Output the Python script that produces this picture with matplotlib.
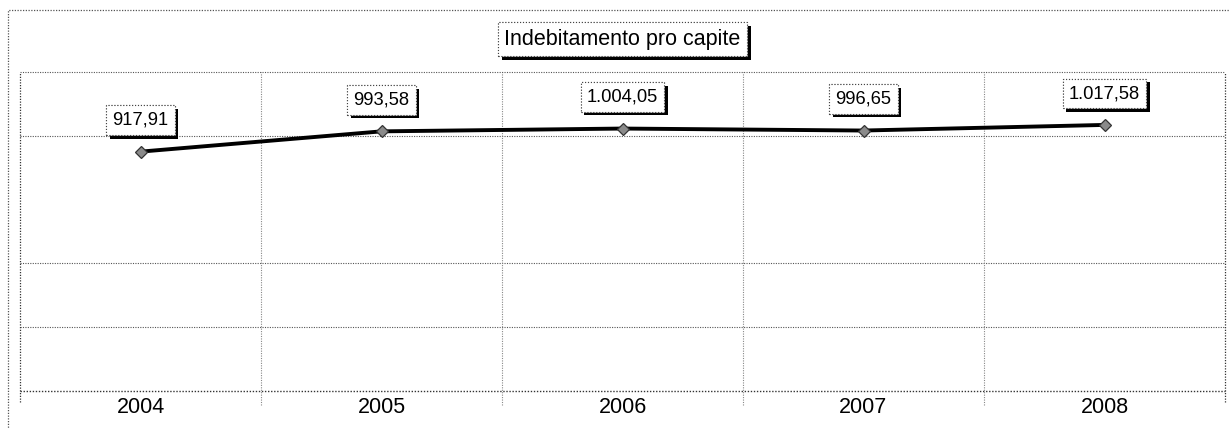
import matplotlib
matplotlib.use("Agg")
import matplotlib.pyplot as plt
import matplotlib.patheffects as pe
from matplotlib.patches import Rectangle

years = ["2004", "2005", "2006", "2007", "2008"]
values = [917.91, 993.58, 1004.05, 996.65, 1017.58]
value_labels = ["917,91", "993,58", "1.004,05", "996,65", "1.017,58"]
title = "Indebitamento pro capite"

plt.rcParams['font.family'] = ['Liberation Sans', 'DejaVu Sans']

W, H = 1230, 428
fig = plt.figure(figsize=(W / 100, H / 100), dpi=100)
ax = fig.add_axes([20 / W, 1 - 391 / H, (1225 - 20) / W, (391 - 72) / H])

x = list(range(len(years)))
ax.plot(x, values, color='black', lw=2.8, zorder=3,
        marker='D', markersize=6.5, markerfacecolor='#8a8a8a',
        markeredgecolor='#333333', markeredgewidth=0.9)

ax.set_xlim(-0.5, len(years) - 0.5)
ax.set_ylim(25, 1215)

dot = (0, (1, 1.2))
gcol = '#555555'
# horizontal grid lines (axes fractions)
for f in [0.2, 0.4, 0.8]:
    ax.plot([0, 1], [f, f], transform=ax.transAxes, color=gcol,
            lw=0.8, linestyle=dot, zorder=1)
# vertical grid lines at category boundaries, extending below as ticks
for b in [i + 0.5 for i in range(len(years) - 1)]:
    ax.plot([b, b], [-0.045, 1], transform=ax.get_xaxis_transform(),
            color='#888888', lw=0.8, linestyle=dot, clip_on=False, zorder=1)
# left/right borders extending down
for b in [0, 1]:
    ax.plot([b, b], [-0.035, 1], transform=ax.transAxes,
            color='#333333', lw=0.9, linestyle=dot, clip_on=False, zorder=1)

for s in ax.spines.values():
    s.set_visible(False)
ax.plot([0, 1], [1, 1], transform=ax.transAxes, color=gcol, lw=0.8,
        linestyle=dot, clip_on=False)
ax.plot([0, 1], [0, 0], transform=ax.transAxes, color='#333333', lw=1.0,
        linestyle=dot, clip_on=False)

ax.set_yticks([])
ax.set_xticks(x)
ax.set_xticklabels(years, fontsize=15.5)
ax.tick_params(axis='x', length=0, pad=4.5)

shadow = [pe.withSimplePatchShadow(offset=(2.6, -2.6), shadow_rgbFace='black', alpha=1.0),
          pe.Normal()]

for xi, v, lab in zip(x, values, value_labels):
    t = ax.annotate(lab, (xi, v), xytext=(0, 16.5), textcoords='offset points',
                    ha='center', va='bottom', fontsize=13.2, zorder=5,
                    bbox=dict(boxstyle='square,pad=0.34', facecolor='white',
                              edgecolor='#444444', lw=0.8, linestyle=':'))
    t.get_bbox_patch().set_path_effects(shadow)

tt = fig.text(622.5 / W, 1 - 39 / H, title, ha='center', va='center', fontsize=15.5,
              bbox=dict(boxstyle='square,pad=0.3', facecolor='white',
                        edgecolor='#444444', lw=0.8, linestyle=':'))
tt.get_bbox_patch().set_path_effects(shadow)

# outer chart border
fig.patches.append(Rectangle((8 / W, -0.1), 1.2, 1 - 10 / H + 0.1,
                             transform=fig.transFigure, fill=False,
                             edgecolor='#555555', lw=0.9, linestyle=dot))

fig.savefig("out.png", dpi=100)
